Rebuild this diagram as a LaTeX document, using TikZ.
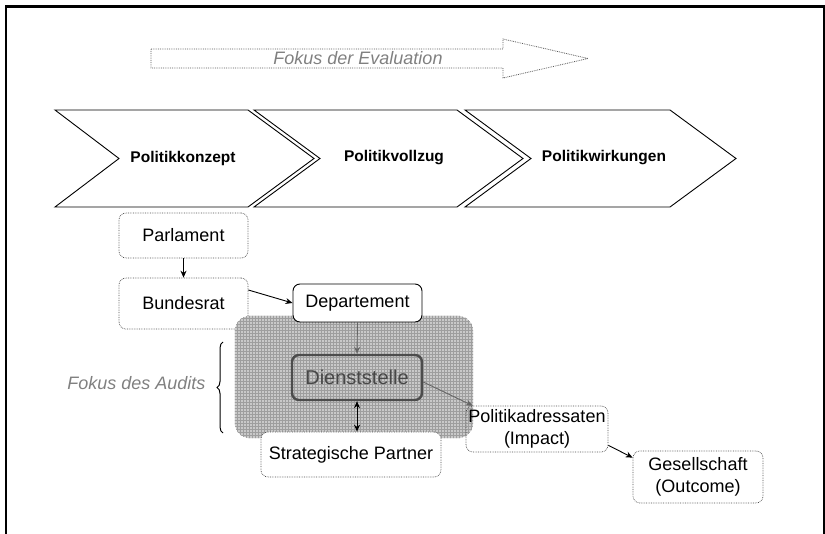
\documentclass[tikz,border=0pt]{standalone}
\usepackage{fontspec}
\setmainfont{Liberation Sans}
\usetikzlibrary{arrows.meta,decorations.pathreplacing,patterns}

\tikzset{
  box/.style={rounded corners=7pt, inner sep=0pt, align=center,
    font=\fontsize{18}{22}\selectfont},
  dotbox/.style={box, draw=black!70, densely dotted, line width=0.7pt},
  solidbox/.style={box, draw=black, line width=0.9pt, fill=white},
  corebox/.style={box, draw=black!70, line width=2.4pt, text=black!72,
    font=\fontsize{20}{24}\selectfont},
  auditzone/.style={rounded corners=15pt, inner sep=0pt, fill=gray!42,
    draw=none},
  link/.style={-{Stealth[length=7pt,width=6pt]}, line width=0.9pt},
  greylink/.style={link, draw=black!60},
  chev/.style={draw=black, line width=0.9pt, fill=white},
  chevtext/.style={font=\fontsize{15.5}{18}\selectfont\bfseries},
  focustext/.style={text=black!50, font=\fontsize{18}{22}\selectfont\itshape},
}

\begin{document}
\begin{tikzpicture}[x=1pt, y=-1pt]
  \useasboundingbox (0,0) rectangle (825,534);

  % frame (open at the bottom)
  \draw[line width=2.6pt] (6,534) -- (6,6.5) -- (824,6.5) -- (824,534);

  % evaluation arrow
  \draw[densely dotted, draw=black!65, line width=0.8pt]
    (151,49) -- (503,49) -- (503,39) -- (588,58.5) -- (503,78) -- (503,68)
    -- (151,68) -- cycle;
  \node[focustext] (evalfocus) at (358,58) {Fokus der Evaluation};

  % process chevrons
  \draw[chev] (55,110) -- (248,110) -- (314,158.5) -- (248,207) -- (55,207)
    -- (119,158.5) -- cycle;
  \draw[chev] (254,110) -- (457,110) -- (523,158.5) -- (457,207) -- (254,207)
    -- (320,158.5) -- cycle;
  \draw[chev] (465,110) -- (670,110) -- (736,158.5) -- (670,207) -- (465,207)
    -- (531,158.5) -- cycle;
  \node[chevtext] (concept) at (183,158) {Politikkonzept};
  \node[chevtext] (execution) at (394,158) {Politikvollzug};
  \node[chevtext] (effects) at (604,158) {Politikwirkungen};

  % actors
  \node[dotbox, minimum width=129pt, minimum height=45pt] (parl) at (183.5,235.5) {Parlament};
  \node[dotbox, minimum width=129pt, minimum height=51pt] (bund) at (183.5,303.5) {Bundesrat};

  % audit zone
  \node[auditzone, minimum width=238pt, minimum height=122pt] (audit) at (354,377) {};
  \fill[pattern=grid, pattern color=black!38, rounded corners=15pt]
    (audit.north west) rectangle (audit.south east);

  \node[solidbox, minimum width=129pt, minimum height=38pt] (dept) at (357.5,303) {Departement};
  \node[corebox, minimum width=130pt, minimum height=45pt] (dienst) at (357,377.5) {Dienststelle};
  \node[dotbox, fill=white, minimum width=180pt, minimum height=45pt] (strat) at (351,454.5) {Strategische Partner};
  \node[dotbox, minimum width=142pt, minimum height=46pt] (addr) at (537,429) {Politikadressaten\\(Impact)};
  \node[dotbox, minimum width=130pt, minimum height=52pt] (soc) at (698,477) {Gesellschaft\\(Outcome)};

  % connectors
  \draw[link] (parl) -- (bund);
  \draw[link] ([yshift=13.5pt]bund.east) -- (dept.west);
  \draw[greylink] (dept.south) -- (dienst.north);
  \draw[{Stealth[length=7pt,width=6pt]}-{Stealth[length=7pt,width=6pt]}, line width=0.9pt]
    (dienst.south) -- (dienst.south |- strat.north);
  \draw[greylink] ([yshift=-4.5pt]dienst.east) -- ([xshift=7pt]addr.north west);
  \draw[link] ([yshift=7pt]addr.south east) -- ([yshift=-7pt]soc.north west);

  % audit focus brace
  \draw[decorate, decoration={brace, amplitude=6pt}, line width=1pt]
    (223,433) -- (223,342);
  \node[focustext, anchor=east] (auditfocus) at (209,383) {Fokus des Audits};
\end{tikzpicture}
\end{document}
